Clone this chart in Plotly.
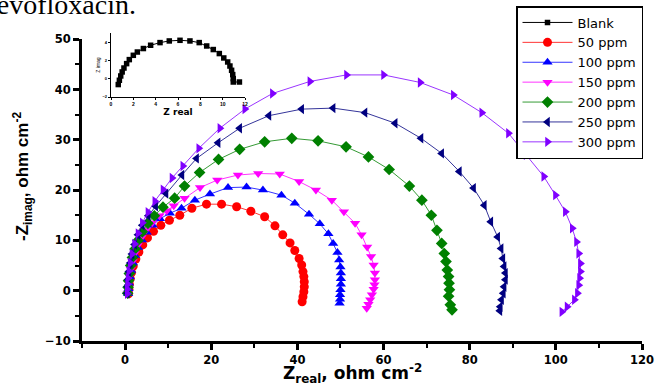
import plotly.graph_objects as go

# ---------------- data ----------------
blank_x = [0.65, 0.75, 0.87, 1.0, 1.16, 1.4, 1.64, 2.0, 2.36, 2.9, 3.55, 4.39, 5.22, 6.18, 7.07,
           7.9, 8.57, 9.16, 9.7, 10.1, 10.45, 10.65, 10.8, 10.9, 10.95, 10.95, 11.5]
blank_y = [-0.64, -0.17, 0.3, 0.74, 1.17, 1.65, 2.09, 2.56, 2.92, 3.3, 3.66, 3.95, 4.13, 4.2, 4.13,
           3.95, 3.58, 3.19, 2.75, 2.27, 1.83, 1.39, 0.92, 0.45, 0.01, -0.36, -0.36]

p50_x = [0.8, 0.9, 1.0, 1.2, 1.5, 1.9, 2.5, 3.2, 4.1, 5.2, 6.6, 8.3, 10.3, 12.7, 15.5, 18.9, 22.4,
         25.9, 29.2, 32.4, 34.8, 36.6, 38.3, 39.4, 40.4, 41.0, 41.3, 41.5, 41.6, 41.6, 41.5, 41.3, 41.1]
p50_y = [-0.6, 0.3, 1.3, 2.4, 3.6, 4.9, 6.3, 7.7, 9.1, 10.5, 11.8, 13.0, 14.0, 15.0, 16.4, 17.2, 17.2,
         16.7, 15.8, 14.7, 12.9, 11.1, 9.5, 8.0, 6.4, 5.1, 3.8, 2.8, 1.8, 0.8, -0.2, -1.2, -2.2]

p100_x = [0.7, 0.8, 0.9, 1.1, 1.4, 1.8, 2.3, 3.0, 3.9, 5.0, 6.4, 8.1, 10.4, 13.1, 16.2, 19.7, 23.9,
          28.2, 32.0, 36.3, 39.4, 42.7, 45.2, 47.2, 48.3, 49.3, 49.7, 50.0, 50.1, 50.1, 50.1, 50.0,
          49.9, 49.9, 49.8]
p100_y = [-0.6, 0.4, 1.5, 2.7, 4.0, 5.5, 7.0, 8.6, 10.1, 11.6, 13.0, 14.3, 15.4, 16.4, 18.0, 19.2, 20.5,
          20.6, 20.0, 19.0, 17.4, 15.2, 13.3, 11.3, 9.4, 7.6, 6.1, 4.7, 3.5, 2.4, 1.3, 0.2,
          -0.8, -1.7, -2.5]

p150_x = [0.6, 0.7, 0.8, 1.0, 1.3, 1.7, 2.2, 2.9, 3.8, 4.9, 6.3, 8.0, 9.7, 11.3, 13.8, 17.4, 21.4,
          26.2, 30.9, 35.9, 40.4, 44.3, 48.0, 50.8, 53.4, 54.9, 56.2, 57.1, 57.7, 58.0, 58.0, 57.9,
          57.7, 57.3, 56.9, 56.5, 56.1]
p150_y = [-0.6, 0.5, 1.6, 2.9, 4.3, 5.8, 7.4, 9.0, 10.6, 12.1, 13.5, 14.9, 15.9, 16.9, 18.4, 20.5, 22.0,
          23.0, 23.3, 23.2, 21.7, 20.0, 18.0, 15.7, 13.4, 11.1, 8.7, 6.8, 5.1, 3.5, 2.2, 1.2,
          0.3, -0.8, -1.8, -2.7, -3.5]

p200_x = [0.6, 0.7, 0.8, 1.0, 1.3, 1.7, 2.3, 3.0, 4.0, 5.3, 6.8, 8.8, 11.5, 13.8, 17.3, 21.7, 26.6,
          32.4, 38.7, 44.8, 51.3, 56.5, 61.3, 66.0, 68.9, 71.1, 72.4, 73.5, 74.1, 74.5, 74.8, 75.1,
          75.2, 75.3, 75.1, 75.5, 75.9]
p200_y = [-0.5, 0.7, 2.0, 3.4, 5.0, 6.6, 8.3, 10.0, 11.7, 13.4, 14.9, 16.6, 18.4, 20.8, 23.5, 26.1, 28.1,
          29.6, 30.3, 29.8, 28.6, 26.6, 24.1, 20.8, 18.0, 15.0, 12.0, 9.4, 7.4, 5.8, 4.1, 2.8,
          1.5, 0.2, -1.1, -2.8, -3.8]

p250_x = [0.5, 0.6, 0.7, 0.9, 1.2, 1.6, 2.2, 3.0, 4.0, 5.4, 7.1, 9.5, 13.2, 16.6, 21.6, 26.6, 33.4,
          41.0, 48.3, 55.7, 62.7, 68.7, 73.5, 77.6, 80.9, 83.4, 84.9, 86.5, 87.3, 87.7, 88.0, 88.3,
          88.3, 88.0, 87.8, 87.4, 87.1, 87.0]
p250_y = [-0.5, 0.8, 2.2, 3.8, 5.5, 7.3, 9.2, 11.1, 13.0, 14.9, 16.8, 19.3, 23.0, 26.3, 29.4, 32.3, 34.8,
          36.1, 36.3, 35.4, 33.3, 30.3, 27.3, 23.7, 20.4, 17.0, 13.7, 10.7, 8.4, 6.4, 4.8, 3.5,
          2.2, 0.8, -0.5, -1.8, -3.2, -4.0]

p300_x = [0.5, 0.5, 0.6, 0.7, 0.9, 1.2, 1.6, 2.2, 3.0, 4.0, 5.3, 6.9, 8.8, 10.9, 13.4, 17.1, 22.0,
          27.8, 34.2, 42.9, 51.4, 60.0, 68.5, 76.2, 82.8, 89.0, 93.1, 97.2, 99.9, 102.2, 103.8,
          104.8, 105.3, 105.7, 105.7, 105.5, 105.3, 105.0, 104.3, 102.6, 101.4]
p300_y = [-0.6, 0.3, 1.3, 2.5, 3.9, 5.5, 7.3, 9.3, 11.4, 13.5, 15.6, 17.8, 20.1, 22.4, 24.8, 28.3, 32.3,
          36.1, 39.2, 41.6, 42.9, 42.9, 41.4, 38.9, 35.4, 31.3, 27.0, 22.7, 19.0, 15.7, 12.4,
          9.7, 7.4, 5.4, 3.8, 2.5, 1.1, -0.5, -1.8, -3.2, -4.2]

series_names = ["50 ppm", "100 ppm", "150 ppm", "200 ppm", "250 ppm", "300 ppm"]
series_x = [p50_x, p100_x, p150_x, p200_x, p250_x, p300_x]
series_y = [p50_y, p100_y, p150_y, p200_y, p250_y, p300_y]
series_colors = ["#FF0000", "#0000FF", "#FF00FF", "#008000", "#000080", "#8000FF"]
series_symbols = ["circle", "triangle-up", "triangle-down", "diamond", "triangle-left", "triangle-right"]
series_sizes = [9, 9, 9, 9, 9, 9]

x_ticks = [0, 20, 40, 60, 80, 100, 120]
y_ticks = [-10, 0, 10, 20, 30, 40, 50]

W, H = 657, 385
L, R, T, B = 82, 15, 5, 44
pw, ph = W - L - R, H - T - B

def px_x(p):
    return (p - L) / pw

def px_y(p):
    return (H - B - p) / ph

fig = go.Figure()

fig.add_trace(go.Scatter(
    x=blank_x, y=blank_y, name="Blank", mode="lines+markers",
    xaxis="x2", yaxis="y2",
    line=dict(color="black", width=1),
    marker=dict(symbol="square", size=5.5, color="black"),
))

for nm, xs, ys, col, sym, sz in zip(series_names, series_x, series_y, series_colors,
                                   series_symbols, series_sizes):
    fig.add_trace(go.Scatter(
        x=xs, y=ys, name=nm, mode="lines+markers",
        line=dict(color=col, width=0.8),
        marker=dict(symbol=sym, size=sz, color=col, line=dict(width=0)),
    ))

axis_font = dict(family="DejaVu Sans", size=11.5, color="black", weight="bold")

fig.update_layout(
    width=W, height=H,
    margin=dict(l=L, r=R, t=T, b=B, autoexpand=False),
    paper_bgcolor="white", plot_bgcolor="white",
    showlegend=True,
    legend=dict(
        x=px_x(516), y=px_y(6), xanchor="left", yanchor="top",
        bgcolor="white", bordercolor="black", borderwidth=1.5,
        font=dict(family="DejaVu Sans", size=13, color="black"),
        tracegroupgap=0, itemwidth=50,
    ),
    xaxis=dict(
        range=[-10, 120], tickvals=x_ticks, showgrid=False, zeroline=False,
        showline=True, linecolor="black", linewidth=3, automargin=False,
        ticks="outside", ticklen=6, tickwidth=2.5, tickcolor="black",
        tickfont=axis_font,
        minor=dict(dtick=10, tick0=0, ticks="outside", ticklen=4, tickwidth=2, tickcolor="black"),
        domain=[0, 1], anchor="y",
    ),
    yaxis=dict(
        range=[-10, 50], tickvals=y_ticks, showgrid=False, zeroline=False,
        showline=True, linecolor="black", linewidth=3, automargin=False,
        ticks="outside", ticklen=6, tickwidth=2.5, tickcolor="black",
        tickfont=axis_font,
        minor=dict(dtick=5, tick0=0, ticks="outside", ticklen=4, tickwidth=2, tickcolor="black"),
        domain=[0, px_y(39.2)], anchor="x",
    ),
    xaxis2=dict(
        range=[0, 12], dtick=2, showgrid=False, zeroline=False, automargin=False,
        showline=True, linecolor="black", linewidth=1.2,
        ticks="outside", ticklen=2, tickwidth=1, tickcolor="black",
        tickfont=dict(family="Arial", size=5, color="black", weight="bold"),
        domain=[px_x(111), px_x(245)], anchor="y2",
        title=dict(text="<b>Z real</b>", font=dict(family="DejaVu Sans", size=9, color="black"), standoff=0),
    ),
    yaxis2=dict(
        range=[-2, 5], dtick=2, showgrid=False, zeroline=False, automargin=False,
        showline=True, linecolor="black", linewidth=1.2,
        ticks="outside", ticklen=2, tickwidth=1, tickcolor="black",
        tickfont=dict(family="Arial", size=4, color="black", weight="bold"),
        domain=[px_y(97), px_y(33)], anchor="x2",
        title=dict(text="Z imag", font=dict(family="Arial", size=5, color="black"), standoff=1),
    ),
    annotations=[
        dict(text="<b>Z<sub>real</sub>, ohm cm<sup>-2</sup></b>", xref="paper", yref="paper",
             x=px_x(352), y=px_y(373), xanchor="center", yanchor="middle", showarrow=False,
             font=dict(family="DejaVu Sans", size=17, color="black")),
        dict(text="<b>-Z<sub>imag</sub>, ohm cm<sup>-2</sup></b>", xref="paper", yref="paper",
             x=px_x(22), y=px_y(177), xanchor="center", yanchor="middle", showarrow=False,
             textangle=-90, font=dict(family="Arial", size=17, color="black")),
        dict(text="levofloxacin.", xref="paper", yref="paper",
             x=px_x(138), y=px_y(22), xanchor="right", yanchor="bottom", showarrow=False,
             font=dict(family="Liberation Serif", size=28, color="black")),
    ],
)

fig.write_html("out.html", config={"displayModeBar": False},
               post_script="document.body.style.margin='0';")
